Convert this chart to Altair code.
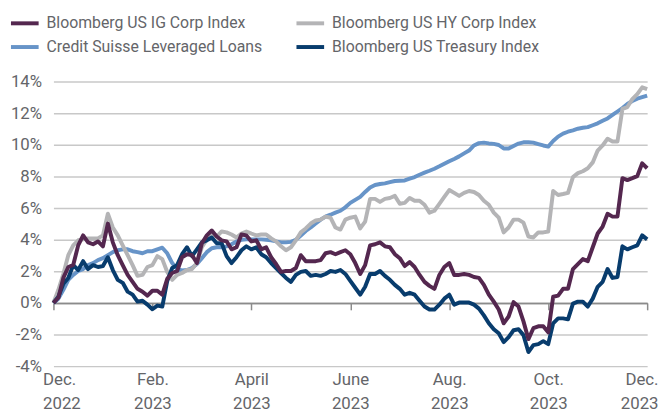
import json
import altair as alt
import pandas as pd

FONT = "Roboto"
TEXT_COLOR = "#646569"

# Legend order (column-major in a 2-column legend):
# column 1: IG Corp, Leveraged Loans; column 2: HY Corp, Treasury
series_names = [
    "Bloomberg US IG Corp Index",
    "Credit Suisse Leveraged Loans",
    "Bloomberg US HY Corp Index",
    "Bloomberg US Treasury Index",
]
series_colors = ["#54274f", "#6794c8", "#b4b4b6", "#083c6d"]

# sample positions: months after end of Dec 2022 (0 = Dec 2022, 12 = Dec 2023)
months = [i / 10 for i in range(121)]

# cumulative total return, %
ig_corp = [
    0.0, 0.33, 1.58, 2.27, 2.4, 3.64, 4.27, 3.83, 3.71, 3.89,
    3.58, 5.02, 3.83, 3.02, 2.39, 1.77, 1.33, 0.89, 0.71, 0.46,
    0.77, 0.77, 0.52, 1.52, 1.89, 2.02, 2.89, 3.08, 3.02, 2.52,
    3.77, 4.27, 4.58, 4.2, 3.96, 3.89, 3.39, 3.52, 4.33, 4.27,
    3.89, 3.96, 3.39, 3.52, 2.89, 2.46, 1.96, 2.02, 2.02, 2.21,
    3.02, 2.64, 2.64, 2.64, 2.71, 3.14, 3.21, 3.08, 3.21, 3.33,
    3.08, 2.52, 1.83, 2.39, 3.64, 3.71, 3.83, 3.58, 3.52, 3.08,
    2.83, 2.33, 2.58, 2.27, 1.77, 1.33, 1.08, 0.89, 1.77, 2.27,
    2.52, 1.77, 1.77, 1.83, 1.77, 1.64, 1.58, 1.14, 0.52, 0.08,
    -0.42, -1.29, -0.86, 0.05, -0.23, -1.17, -2.29, -1.6, -1.48, -1.48,
    -1.86, 0.39, 0.46, 0.89, 0.89, 2.14, 2.46, 2.77, 2.64, 3.52,
    4.39, 4.83, 5.64, 5.46, 5.46, 7.89, 7.77, 7.89, 8.02, 8.83,
    8.52,
]

hy_corp = [
    0.0, 0.83, 1.83, 3.02, 3.64, 3.96, 4.02, 4.08, 4.08, 4.08,
    4.27, 5.64, 4.77, 4.27, 3.64, 3.02, 2.39, 1.71, 1.77, 2.27,
    2.39, 2.96, 2.77, 1.96, 1.46, 1.77, 1.89, 2.08, 2.14, 2.52,
    3.52, 4.02, 4.39, 4.2, 4.52, 4.46, 4.33, 4.14, 4.39, 4.52,
    4.39, 4.27, 4.33, 4.33, 4.08, 3.89, 3.58, 3.33, 3.52, 3.96,
    4.46, 4.71, 5.02, 5.21, 5.27, 5.46, 5.39, 4.77, 4.64, 5.27,
    5.39, 5.46, 4.71, 5.14, 6.58, 6.58, 6.39, 6.58, 6.64, 6.77,
    6.27, 6.33, 6.64, 6.46, 6.46, 6.21, 5.71, 5.83, 6.27, 6.71,
    7.14, 6.96, 6.77, 6.96, 7.08, 7.02, 6.83, 6.46, 6.21, 5.71,
    5.39, 4.46, 4.77, 5.27, 5.27, 5.08, 4.2, 4.14, 4.46, 4.46,
    4.52, 7.08, 6.83, 6.89, 6.96, 7.96, 8.21, 8.33, 8.52, 8.89,
    9.64, 9.96, 10.39, 10.21, 10.21, 12.27, 12.39, 12.89, 13.21, 13.64,
    13.52,
]

lev_loans = [
    0.0, 0.27, 0.83, 1.46, 1.77, 2.02, 2.14, 2.39, 2.52, 2.71,
    2.83, 3.02, 3.21, 3.33, 3.39, 3.39, 3.27, 3.21, 3.14, 3.27,
    3.27, 3.39, 3.49, 3.14, 2.52, 2.14, 2.05, 2.08, 2.21, 2.46,
    2.83, 3.21, 3.46, 3.52, 3.52, 3.58, 3.71, 3.89, 3.99, 4.02,
    4.02, 4.02, 4.02, 3.99, 3.96, 3.89, 3.83, 3.83, 3.86, 3.99,
    4.27, 4.55, 4.77, 5.02, 5.27, 5.46, 5.58, 5.71, 5.83, 6.05,
    6.33, 6.52, 6.71, 7.02, 7.3, 7.46, 7.52, 7.56, 7.64, 7.71,
    7.73, 7.75, 7.86, 7.96, 8.11, 8.24, 8.36, 8.49, 8.64, 8.8,
    8.96, 9.11, 9.27, 9.46, 9.64, 9.96, 10.11, 10.14, 10.09, 10.06,
    9.99, 9.77, 9.77, 9.93, 10.08, 10.16, 10.16, 10.14, 10.05, 9.96,
    9.89, 10.24, 10.52, 10.71, 10.83, 10.92, 11.02, 11.08, 11.12, 11.24,
    11.36, 11.52, 11.67, 11.89, 12.11, 12.33, 12.58, 12.77, 12.92, 13.02,
    13.12,
]

treasury = [
    0.0, 0.39, 1.21, 1.58, 2.39, 2.08, 2.64, 2.14, 2.39, 2.27,
    2.33, 2.89, 2.08, 1.46, 1.27, 0.71, 0.52, 0.08, 0.14, -0.11,
    -0.4, -0.17, -0.23, 1.39, 2.21, 2.39, 3.08, 3.52, 2.96, 3.39,
    3.83, 3.96, 4.14, 3.77, 3.77, 2.96, 2.52, 2.89, 3.33, 3.58,
    3.39, 3.52, 3.08, 2.89, 2.52, 2.21, 1.89, 1.58, 1.33, 1.77,
    1.96, 2.02, 1.71, 1.77, 1.71, 1.83, 2.02, 1.96, 2.08, 1.83,
    1.39, 0.96, 0.52, 1.02, 1.83, 1.83, 2.02, 1.71, 1.46, 1.14,
    0.89, 0.52, 0.64, 0.52, 0.14, -0.23, -0.42, -0.42, -0.11, 0.27,
    0.52, -0.11, 0.02, 0.02, 0.02, -0.11, -0.36, -0.79, -1.29, -1.67,
    -1.92, -2.48, -2.17, -1.73, -1.67, -2.04, -3.11, -2.67, -2.61, -2.42,
    -2.61, -1.29, -0.98, -0.98, -1.04, -0.05, 0.08, 0.08, -0.23, 0.27,
    1.02, 1.33, 2.14, 1.58, 1.64, 3.58, 3.39, 3.52, 3.64, 4.27,
    4.02,
]

tick_months = [0, 2, 4, 6, 8, 10, 12]
tick_labels = ["Dec.|2022", "Feb.|2023", "April|2023", "June|2023",
               "Aug.|2023", "Oct.|2023", "Dec.|2023"]
y_ticks = [-4, -2, 0, 2, 4, 6, 8, 10, 12, 14]

# draw order: leveraged loans, HY, Treasury, IG on top
draw_order = [
    ("Credit Suisse Leveraged Loans", lev_loans),
    ("Bloomberg US HY Corp Index", hy_corp),
    ("Bloomberg US Treasury Index", treasury),
    ("Bloomberg US IG Corp Index", ig_corp),
]
frames = []
for name, vals in draw_order:
    frames.append(pd.DataFrame({"month": months, "value": vals, "series": name}))
df = pd.concat(frames, ignore_index=True)

x_label_expr = ("split(" + json.dumps(tick_labels) + "[indexof("
                + json.dumps(tick_months) + ", datum.value)], '|')")

chart = alt.Chart(df).mark_line(strokeWidth=4, strokeJoin="round").encode(
    x=alt.X(
        "month:Q",
        scale=alt.Scale(domain=[0, 12], nice=False, zero=False),
        axis=alt.Axis(
            values=tick_months,
            labelExpr=x_label_expr,
            title=None,
            grid=False,
            domain=True,
            domainColor="#8b8b8b",
            domainWidth=1.5,
            ticks=True,
            tickColor="#8b8b8b",
            tickWidth=1.5,
            tickSize=7,
            offset=-64,
            labelPadding=63,
            labelLineHeight=24,
            labelFont=FONT,
            labelFontSize=17,
            labelColor=TEXT_COLOR,
            labelFlush=True,
            labelFlushOffset=11,
            labelOverlap=False,
        ),
    ),
    y=alt.Y(
        "value:Q",
        scale=alt.Scale(domain=[-4, 14], nice=False),
        axis=alt.Axis(
            values=y_ticks,
            labelExpr="datum.value + '%'",
            title=None,
            grid=True,
            gridColor=alt.condition("datum.value === 0", alt.value("#8b8b8b"), alt.value("#c8c8c8")),
            gridWidth=1.5,
            domain=False,
            ticks=False,
            tickSize=0,
            labelPadding=12,
            labelFont=FONT,
            labelFontSize=17,
            labelColor=TEXT_COLOR,
        ),
    ),
    color=alt.Color(
        "series:N",
        scale=alt.Scale(domain=series_names, range=series_colors),
        legend=alt.Legend(
            title=None,
            orient="none",
            legendX=-45,
            legendY=-75,
            columns=2,
            symbolType="stroke",
            symbolSize=784,
            symbolStrokeWidth=4,
            labelFont=FONT,
            labelFontSize=16,
            labelColor=TEXT_COLOR,
            labelLimit=400,
            labelOffset=6,
            columnPadding=26,
            rowPadding=-4,
            padding=0,
        ),
    ),
).properties(
    width=601,
    height=288,
    autosize=alt.AutoSizeParams(type="none"),
    padding={"left": 46, "top": 72, "right": 13, "bottom": 51},
).configure_view(stroke=None)

chart.save("out.html", embed_options={"renderer": "svg", "actions": False})
